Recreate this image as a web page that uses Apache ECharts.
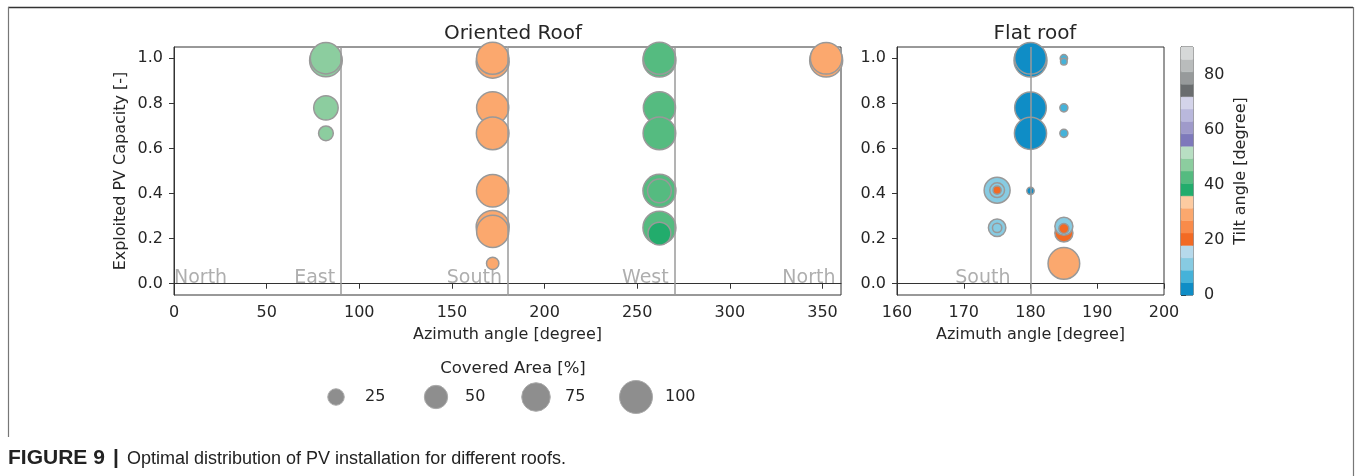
<!DOCTYPE html>
<html>
<head>
<meta charset="utf-8">
<script src="https://cdn.jsdelivr.net/npm/echarts@6/dist/echarts.min.js"></script>
<style>
  html, body { margin: 0; padding: 0; background: #ffffff; }
  #chart { width: 1356px; height: 476px; }
</style>
</head>
<body>
<div id="chart"></div>
<script>
// Oriented roof: azimuth [deg], exploited capacity [-], covered area [%], tilt [deg]
const orientedAzimuth  = [82, 82, 82, 82,
                          172, 172, 172, 172, 172, 172, 172, 172,
                          262, 262, 262, 262, 262, 262, 262, 262,
                          352, 352];
const orientedCapacity = [0.99, 1.0, 0.78, 0.667,
                          0.985, 1.0, 0.78, 0.667, 0.412, 0.252, 0.232, 0.09,
                          0.99, 1.0, 0.78, 0.667, 0.412, 0.412, 0.248, 0.222,
                          0.99, 1.0];
const orientedArea     = [98, 90, 55, 20,
                          100, 95, 95, 98, 97, 100, 95, 14,
                          100, 95, 95, 98, 100, 52, 100, 48,
                          100, 92];
const orientedTilt     = [47, 47, 47, 47,
                          29, 29, 29, 29, 29, 29, 29, 29,
                          42, 42, 42, 42, 42, 42, 42, 38,
                          29, 29];

// Flat roof
const flatAzimuth  = [180, 180, 180, 180, 180,
                      175, 175, 175, 175, 175,
                      185, 185, 185, 185, 185, 185, 185, 185];
const flatCapacity = [0.99, 1.0, 0.78, 0.667, 0.412,
                      0.415, 0.415, 0.415, 0.248, 0.248,
                      1.0, 0.985, 0.78, 0.667, 0.225, 0.255, 0.245, 0.09];
const flatArea     = [100, 92, 92, 95, 5,
                      62, 20, 6, 28, 8,
                      5, 4, 6, 6, 30, 30, 9, 92];
const flatTilt     = [2, 2, 2, 2, 2,
                      11, 11, 20, 11, 11,
                      7, 7, 7, 7, 20, 11, 20, 29];

// Tilt colour scale: 20 bands of 4.5 degrees from 0 to 90
const tiltColors = [
  '#0f8dc6', '#45b2d9', '#87cbe2', '#b6d9eb',
  '#f26a24', '#f98b4a', '#fba86e', '#fdcba1',
  '#22ac6c', '#55bb80', '#8ccd9f', '#b8dfc3',
  '#7e79bb', '#9f9aca', '#b9b8dc', '#d4d4ea',
  '#6a6d6f', '#979a9b', '#b9bcbc', '#d6d8d8'
];
const tiltStep = 4.5;
const tiltTicks = [0, 20, 40, 60, 80];

const capacityTicks = [0, 0.2, 0.4, 0.6, 0.8, 1.0];
const orientedAzimuthTicks = [0, 50, 100, 150, 200, 250, 300, 350];

const directionNames  = ['North', 'East', 'South', 'West', 'North'];
const directionAngles = [0, 90, 180, 270, 360];
const flatDirectionNames  = ['South'];
const flatDirectionAngles = [180];

const areaLegendValues = [25, 50, 75, 100];

const textColor = '#262626';
const fontFamily = 'DejaVu Sans';

function tiltColor(t) {
  const i = Math.min(tiltColors.length - 1, Math.floor(t / tiltStep));
  return tiltColors[i];
}
function bubbleSize(area) {
  return 3.3 * Math.sqrt(area);
}
function zip(a, b, c, d) {
  return a.map((v, i) => [v, b[i], c[i], d[i]]);
}

function bubbleSeries(xi, data, lines) {
  return {
    type: 'scatter',
    xAxisIndex: xi, yAxisIndex: xi,
    data: data,
    clip: true,
    symbolSize: v => bubbleSize(v[2]),
    itemStyle: {
      color: p => tiltColor(p.value[3]),
      borderColor: '#999999',
      borderWidth: 1.5,
      opacity: 1
    },
    emphasis: { disabled: true },
    markLine: {
      silent: true,
      symbol: ['none', 'none'],
      label: { show: false },
      lineStyle: { color: '#9a9a9a', width: 1.5, type: 'solid' },
      data: lines.map(a => ({ xAxis: a }))
    },
    z: 3
  };
}

// Compass names sit on the zero line, just left of their direction
function directionSeries(xi, names, angles, shift) {
  return {
    type: 'scatter',
    xAxisIndex: xi, yAxisIndex: xi,
    symbolSize: 0,
    silent: true,
    clip: false,
    data: names.map((n, i) => ({
      value: [angles[i] === 0 ? 0 : angles[i] - shift, 0],
      name: n,
      label: { align: angles[i] === 0 ? 'left' : 'right' }
    })),
    label: {
      show: true,
      position: 'inside',
      formatter: p => p.name,
      color: '#9a9a9a',
      fontFamily: fontFamily,
      fontSize: 19,
      verticalAlign: 'bottom',
      offset: [0, 4]
    },
    z: 2
  };
}

function valueAxisStyle(margin) {
  return {
    axisLine: { show: true, lineStyle: { color: '#333', width: 1 } },
    axisTick: { show: true, length: 5, lineStyle: { color: '#333', width: 1 } },
    splitLine: { show: false },
    axisLabel: { color: textColor, fontFamily: fontFamily, fontSize: 16, margin: margin },
    nameTextStyle: { color: textColor, fontFamily: fontFamily, fontSize: 16 }
  };
}

const chart = echarts.init(document.getElementById('chart'), null, { renderer: 'canvas' });

const gridBox = { show: true, borderColor: '#333', borderWidth: 1, backgroundColor: 'transparent' };

function withTicks(base, ticks, formatter) {
  const out = Object.assign({}, base);
  out.axisLabel = Object.assign({}, base.axisLabel, { customValues: ticks });
  if (formatter) out.axisLabel.formatter = formatter;
  out.axisTick = Object.assign({}, base.axisTick, { customValues: ticks });
  return out;
}

const option = {
  animation: false,
  backgroundColor: '#ffffff',
  title: [
    { text: 'Oriented Roof', left: 508, top: 19, textAlign: 'center',
      textStyle: { fontFamily: fontFamily, fontSize: 20, fontWeight: 'normal', color: textColor } },
    { text: 'Flat roof', left: 1030, top: 19, textAlign: 'center',
      textStyle: { fontFamily: fontFamily, fontSize: 20, fontWeight: 'normal', color: textColor } },
    { text: 'Covered Area [%]', left: 508, top: 355, textAlign: 'center',
      textStyle: { fontFamily: fontFamily, fontSize: 16.5, fontWeight: 'normal', color: textColor } }
  ],
  grid: [
    Object.assign({ left: 174, top: 47, width: 667, height: 248 }, gridBox),
    Object.assign({ left: 897, top: 47, width: 267, height: 248 }, gridBox),
    Object.assign({ left: 1181, top: 47, width: 12, height: 248 }, gridBox),
    { left: 286, top: 377, width: 400, height: 40, show: false }
  ],
  xAxis: [
    Object.assign(withTicks(valueAxisStyle(10), orientedAzimuthTicks), {
      gridIndex: 0, type: 'value', min: 0, max: 360,
      name: 'Azimuth angle [degree]', nameLocation: 'middle', nameGap: 32
    }),
    Object.assign(valueAxisStyle(10), {
      gridIndex: 1, type: 'value', min: 160, max: 200, interval: 10,
      name: 'Azimuth angle [degree]', nameLocation: 'middle', nameGap: 32
    }),
    { gridIndex: 2, type: 'value', min: 0, max: 1, show: false },
    { gridIndex: 3, type: 'value', min: 0, max: 4, show: false }
  ],
  yAxis: [
    Object.assign(withTicks(valueAxisStyle(11), capacityTicks, v => v.toFixed(1)), {
      gridIndex: 0, type: 'value', min: -0.05, max: 1.05,
      name: 'Exploited PV Capacity [-]', nameLocation: 'middle', nameGap: 45
    }),
    Object.assign(withTicks(valueAxisStyle(11), capacityTicks, v => v.toFixed(1)), {
      gridIndex: 1, type: 'value', min: -0.05, max: 1.05
    }),
    Object.assign(withTicks(valueAxisStyle(11), tiltTicks), {
      gridIndex: 2, type: 'value', min: 0, max: 90, position: 'right',
      name: 'Tilt angle [degree]', nameLocation: 'middle', nameGap: 40
    }),
    { gridIndex: 3, type: 'value', min: -1, max: 1, show: false }
  ],
  series: [
    bubbleSeries(0, zip(orientedAzimuth, orientedCapacity, orientedArea, orientedTilt), [90, 180, 270]),
    directionSeries(0, directionNames, directionAngles, 3),
    bubbleSeries(1, zip(flatAzimuth, flatCapacity, flatArea, flatTilt), [180]),
    directionSeries(1, flatDirectionNames, flatDirectionAngles, 3),
    {
      // colour bar bands
      type: 'custom',
      xAxisIndex: 2, yAxisIndex: 2,
      silent: true,
      data: tiltColors.map((c, i) => [i * tiltStep, (i + 1) * tiltStep, i]),
      encode: { y: [0, 1] },
      renderItem: (params, api) => {
        const p0 = api.coord([0, api.value(1)]);
        const p1 = api.coord([1, api.value(0)]);
        return {
          type: 'rect',
          shape: { x: p0[0], y: p0[1], width: p1[0] - p0[0], height: p1[1] - p0[1] },
          style: { fill: tiltColors[api.value(2)], stroke: tiltColors[api.value(2)], lineWidth: 0.5 }
        };
      },
      z: 1
    },
    {
      // size legend
      type: 'scatter',
      xAxisIndex: 3, yAxisIndex: 3,
      silent: true,
      data: areaLegendValues.map((v, i) => [i + 0.5, 0, v]),
      symbolSize: v => bubbleSize(v[2]),
      itemStyle: { color: '#8e8e8e', borderColor: '#ababab', borderWidth: 1, opacity: 1 },
      label: {
        show: true, position: 'inside', align: 'left', offset: [29, 0],
        formatter: p => String(p.value[2]),
        color: textColor, fontFamily: fontFamily, fontSize: 16
      }
    }
  ],
  graphic: [
    { type: 'line', shape: { x1: 8, y1: 7.5, x2: 1353, y2: 7.5 }, style: { stroke: '#333', lineWidth: 1.5 }, silent: true },
    { type: 'line', shape: { x1: 8.5, y1: 7, x2: 8.5, y2: 437 }, style: { stroke: '#777', lineWidth: 1.2 }, silent: true },
    { type: 'line', shape: { x1: 1353.5, y1: 7, x2: 1353.5, y2: 476 }, style: { stroke: '#777', lineWidth: 1.2 }, silent: true },
    {
      type: 'text', left: 8, top: 448, silent: true,
      style: { text: 'FIGURE 9', fontFamily: 'Liberation Sans', fontSize: 21, fontWeight: 'bold', fill: '#222' }
    },
    {
      type: 'text', left: 113, top: 448, silent: true,
      style: { text: '|', fontFamily: 'Liberation Sans', fontSize: 21, fontWeight: 'bold', fill: '#222' }
    },
    {
      type: 'text', left: 127, top: 450, silent: true,
      style: { text: 'Optimal distribution of PV installation for different roofs.',
               fontFamily: 'Liberation Sans', fontSize: 18, fill: '#222' }
    }
  ]
};

chart.setOption(option);
</script>
</body>
</html>
